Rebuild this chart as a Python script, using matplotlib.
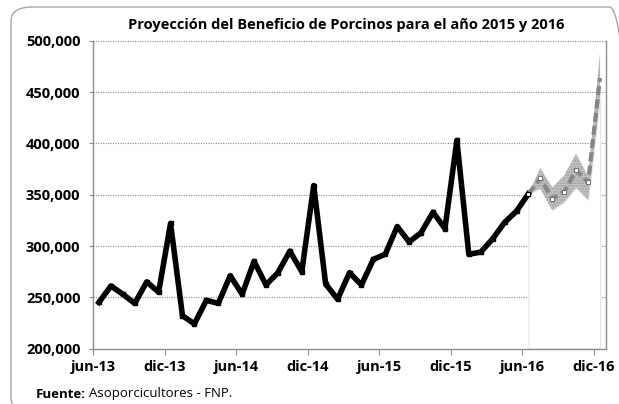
import numpy as np
import matplotlib
matplotlib.use("Agg")
import matplotlib.pyplot as plt
from matplotlib.patches import FancyBboxPatch

plt.rcParams['font.family'] = ['Open Sans', 'DejaVu Sans']

# -------------------------------
# Data
# -------------------------------
# months counted from jun-13 (0) to jun-16 (36)
hist_values = [245, 261, 253, 244, 265, 255, 322, 232, 224, 247, 244, 271,
               253, 285, 262, 274, 295, 275, 359, 263, 248, 274, 262, 287,
               292, 319, 304, 313, 333, 317, 403, 292, 294, 307, 323, 334,
               351]
# projection jun-16 (36) to dic-16 (42)
proj_values = [351, 366, 346, 353, 374, 362, 464]
proj_lower = [351, 356, 335, 343, 357, 345, 445]
proj_upper = [351, 376, 357, 369, 390, 368, 488]

tick_labels = ["jun-13", "dic-13", "jun-14", "dic-14", "jun-15", "dic-15",
               "jun-16", "dic-16"]
y_ticks = [200000, 250000, 300000, 350000, 400000, 450000, 500000]

title = "Proyección del Beneficio de Porcinos para el año 2015 y 2016"

# -------------------------------
# Prepare
# -------------------------------
hist = np.array(hist_values) * 1000
proj = np.array(proj_values) * 1000
low = np.array(proj_lower) * 1000
up = np.array(proj_upper) * 1000
x_hist = np.arange(len(hist)) + 0.5
x_proj = np.arange(36, 36 + len(proj)) + 0.5

# -------------------------------
# Plot
# -------------------------------
fig = plt.figure(figsize=(6.19, 4.04), dpi=100)
ax = fig.add_axes([93 / 619, 1 - 348.5 / 404, (606 - 93) / 619, (348.5 - 41) / 404])

# rounded chart border
border = FancyBboxPatch((11 / 619, -8 / 404), 620 / 619, 405 / 404,
                        boxstyle="round,pad=0,rounding_size=0.035",
                        transform=fig.transFigure, facecolor='none',
                        edgecolor='#a6a6a6', linewidth=1.0, clip_on=False)
fig.patches.append(border)

ax.set_ylim(200000, 500000)
ax.set_xlim(0, 43)

for yv in y_ticks[1:]:
    ax.axhline(yv, color='#8c8c8c', linestyle=(0, (1, 1.2)), linewidth=0.8,
               zorder=0, clip_on=False)

# white area under the band (stacked-area trick) and the band
ax.fill_between(x_proj, 200000, low, facecolor='white', edgecolor='#e4e4e4',
                linewidth=0.8, zorder=1)
ax.fill_between(x_proj, low, up, facecolor='#c6c6c6', edgecolor='#999999',
                hatch='......', linewidth=0.0, zorder=2)

ax.plot(x_hist, hist, color='black', linewidth=4.0, marker='s', markersize=2.5,
        solid_joinstyle='round', zorder=3)
ax.plot(x_proj, proj, color='#858585', linewidth=3.0, linestyle=(0, (2.2, 1.0)),
        zorder=4)
ax.plot(x_proj[:-1], proj[:-1], linestyle='none', marker='s', markersize=2.6,
        markerfacecolor='white', markeredgecolor='#6f6f6f', markeredgewidth=0.7,
        zorder=5)
ax.plot(x_proj[:1], proj[:1], linestyle='none', marker='s', markersize=3.2,
        markerfacecolor='white', markeredgecolor='black', markeredgewidth=0.8,
        zorder=6)

ax.set_yticks(y_ticks)
ax.set_yticklabels([f"{v:,}" for v in y_ticks], fontweight='bold', fontsize=10.5)
ax.set_xticks(np.arange(0, 43, 6))
ax.set_xticklabels(tick_labels, fontweight='bold', fontsize=10.5)

ax.tick_params(axis='y', length=3, width=0.8, color='#8c8c8c', pad=6)
ax.tick_params(axis='x', length=4, width=0.8, color='#8c8c8c', pad=4)
for side in ['left', 'bottom', 'right']:
    ax.spines[side].set_color('#8c8c8c')
    ax.spines[side].set_linewidth(1.0)
ax.spines['top'].set_visible(False)

fig.text(346 / 619, 1 - 25 / 404, title, ha='center', va='center',
         fontsize=10.5, fontweight='bold')

# footer: bold "Fuente:" followed by regular text
src = fig.text(36 / 619, 1 - 394 / 404, "Fuente:", ha='left', va='center',
               fontsize=9.5, fontweight='bold')
fig.canvas.draw()
bb = src.get_window_extent(renderer=fig.canvas.get_renderer())
fig.text((bb.x1 + 3) / 619, 1 - 394 / 404, "Asoporcicultores - FNP.", ha='left',
         va='center', fontsize=9.5)

fig.savefig("out.png", dpi=100)
